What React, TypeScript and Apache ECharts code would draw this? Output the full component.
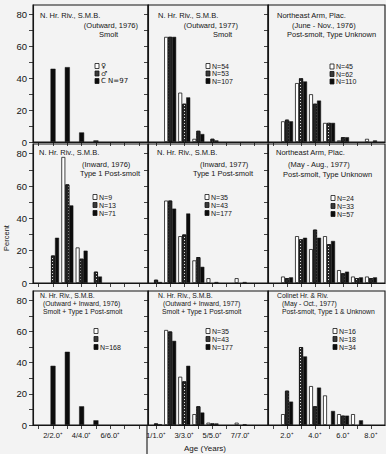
import React, { useEffect, useRef } from "react";
import * as echarts from "echarts";

// Ages (years) – categories on every x axis
const ages = [1, 2, 3, 4, 5, 6, 7, 8];
const yTicks = [0, 10, 20, 30, 40, 50, 60, 70, 80];
const yLabels = [0, 20, 40, 60, 80];

// Percent by age (index 0 = age 1 ... index 7 = age 8)
const outward1976C = [0, 46, 47, 6, 1, 0, 0, 0];
const outward1977W = [0, 66, 31, 2, 0, 0, 0, 0];
const outward1977H = [0, 66, 24, 7, 2, 0, 0, 0];
const outward1977B = [0, 66, 28, 5, 1, 0, 0, 0];
const neArm1976W = [0, 13, 37, 30, 12, 1, 0, 2];
const neArm1976H = [0, 14, 40, 24, 12, 3, 0, 0];
const neArm1976B = [0, 13, 38, 26, 12, 3, 0, 1];
const inward1976W = [0, 0, 78, 22, 0, 0, 0, 0];
const inward1976H = [0, 17, 61, 15, 7, 0, 0, 0];
const inward1976B = [0, 28, 48, 20, 4, 0, 0, 0];
const inward1977W = [0, 51, 29, 14, 3, 0, 3, 0];
const inward1977H = [2, 51, 30, 16, 0, 0, 0, 0];
const inward1977B = [0.6, 46, 43, 10, 0.6, 0, 0.6, 0];
const neArm1977W = [0, 4, 29, 21, 29, 8, 4, 4];
const neArm1977H = [0, 3, 27, 33, 24, 6, 3, 3];
const neArm1977B = [0, 3.5, 28, 28, 26, 7, 3.5, 3.5];
const combined1976C = [0, 38, 47, 12, 3, 0, 0, 0];
const combined1977W = [0, 61, 31, 7, 1.5, 0, 1.5, 0];
const combined1977H = [1, 60, 28, 12, 1, 0, 0, 0];
const combined1977B = [0.5, 54, 38, 8, 1, 0, 0.5, 0];
const colinetW = [0, 7, 0, 25, 19, 7, 7, 0];
const colinetH = [0, 22, 50, 12, 0, 6, 0, 0];
const colinetB = [0, 15, 44, 24, 9, 6, 3, 0];

const FONT = '"Liberation Sans", Arial, sans-serif';
const SYMFONT = '"DejaVu Sans", sans-serif';
const INK = "#151515";

const cols = [
  { left: 33, width: 115, min: 0.6, max: 8.64, labels: [2, 4, 6], fmt: (v: number) => `${v}/${v}.0⁺` },
  { left: 148, width: 120, min: 0.43, max: 8.94, labels: [1, 3, 5, 7], fmt: (v: number) => `${v}/${v}.0⁺` },
  { left: 268, width: 117, min: 0.64, max: 9.0, labels: [2, 4, 6, 8], fmt: (v: number) => `${v}.0⁺` },
];
const rows = [
  { top: 5, height: 137, titleFont: 7.5 },
  { top: 144, height: 139, titleFont: 7.5 },
  { top: 291, height: 134, titleFont: 6.8 },
];

type Kind = "W" | "H" | "B";
interface Panel {
  series: { kind: Kind; values: number[] }[];
  titles: { text: string; x: number; y: number; align?: string }[];
  legend: { x: number; ys: number[]; texts: string[]; font?: string };
}

const panels: Panel[] = [
  {
    series: [{ kind: "B", values: outward1976C }],
    titles: [
      { text: "N. Hr. Riv., S.M.B.", x: 40, y: 15 },
      { text: "(Outward, 1976)", x: 138, y: 25, align: "right" },
      { text: "Smolt", x: 99, y: 34 },
    ],
    legend: { x: 95, ys: [66, 73.5, 81], texts: ["♀", "♂", "C N=97"], font: SYMFONT },
  },
  {
    series: [
      { kind: "W", values: outward1977W },
      { kind: "H", values: outward1977H },
      { kind: "B", values: outward1977B },
    ],
    titles: [
      { text: "N. Hr. Riv., S.M.B.", x: 158, y: 15 },
      { text: "(Outward, 1977)", x: 238, y: 25, align: "right" },
      { text: "Smolt", x: 213, y: 34 },
    ],
    legend: { x: 206, ys: [66, 73.5, 81], texts: ["N=54", "N=53", "N=107"] },
  },
  {
    series: [
      { kind: "W", values: neArm1976W },
      { kind: "H", values: neArm1976H },
      { kind: "B", values: neArm1976B },
    ],
    titles: [
      { text: "Northeast Arm, Plac.", x: 277, y: 15 },
      { text: "(June - Nov., 1976)", x: 292, y: 25 },
      { text: "Post-smolt, Type Unknown", x: 287, y: 34 },
    ],
    legend: { x: 330, ys: [66.5, 74, 81.5], texts: ["N=45", "N=62", "N=110"] },
  },
  {
    series: [
      { kind: "W", values: inward1976W },
      { kind: "H", values: inward1976H },
      { kind: "B", values: inward1976B },
    ],
    titles: [
      { text: "N. Hr. Riv., S.M.B.", x: 39, y: 152 },
      { text: "(Inward, 1976)", x: 82, y: 164 },
      { text: "Type 1 Post-smolt", x: 80, y: 173 },
    ],
    legend: { x: 93, ys: [197, 205, 213], texts: ["N=9", "N=13", "N=71"] },
  },
  {
    series: [
      { kind: "W", values: inward1977W },
      { kind: "H", values: inward1977H },
      { kind: "B", values: inward1977B },
    ],
    titles: [
      { text: "N. Hr. Riv., S.M.B.", x: 157, y: 152 },
      { text: "(Inward, 1977)", x: 200, y: 164 },
      { text: "Type 1 Post-smolt", x: 193, y: 173 },
    ],
    legend: { x: 205, ys: [197, 205, 213], texts: ["N=35", "N=43", "N=177"] },
  },
  {
    series: [
      { kind: "W", values: neArm1977W },
      { kind: "H", values: neArm1977H },
      { kind: "B", values: neArm1977B },
    ],
    titles: [
      { text: "Northeast Arm, Plac.", x: 276, y: 152 },
      { text: "(May - Aug., 1977)", x: 288, y: 164 },
      { text: "Post-smolt, Type Unknown", x: 283, y: 174 },
    ],
    legend: { x: 331, ys: [198, 206, 214], texts: ["N=24", "N=33", "N=57"] },
  },
  {
    series: [{ kind: "B", values: combined1976C }],
    titles: [
      { text: "N. Hr. Riv., S.M.B.", x: 40, y: 295 },
      { text: "(Outward + Inward, 1976)", x: 43, y: 303 },
      { text: "Smolt + Type 1 Post-smolt", x: 43, y: 311 },
    ],
    legend: { x: 94, ys: [331, 339, 347], texts: ["", "", "N=168"] },
  },
  {
    series: [
      { kind: "W", values: combined1977W },
      { kind: "H", values: combined1977H },
      { kind: "B", values: combined1977B },
    ],
    titles: [
      { text: "N. Hr. Riv., S.M.B.", x: 158, y: 295 },
      { text: "(Outward + Inward, 1977)", x: 163, y: 303 },
      { text: "Smolt + Type 1 Post-smolt", x: 162, y: 311 },
    ],
    legend: { x: 206, ys: [331, 339, 347], texts: ["N=35", "N=43", "N=177"] },
  },
  {
    series: [
      { kind: "W", values: colinetW },
      { kind: "H", values: colinetH },
      { kind: "B", values: colinetB },
    ],
    titles: [
      { text: "Colinet Hr. & Riv.", x: 277, y: 295 },
      { text: "(May - Oct., 1977)", x: 282, y: 303 },
      { text: "Post-smolt, Type 1 & Unknown", x: 282, y: 311 },
    ],
    legend: { x: 333, ys: [331, 339, 347], texts: ["N=16", "N=18", "N=34"] },
  },
];

const barStyles: Record<Kind, any> = {
  W: { color: "#ffffff", borderColor: INK, borderWidth: 0.8 },
  H: {
    color: "#262626",
    borderColor: INK,
    borderWidth: 0.8,
    decal: {
      symbol: "rect",
      symbolSize: 1,
      color: "rgba(255,255,255,0.85)",
      dashArrayX: [1, 3],
      dashArrayY: [1, 2],
      rotation: 0,
    },
  },
  B: { color: "#0c0c0c", borderColor: INK, borderWidth: 0.5 },
};
const legendFill: Record<Kind, string> = { W: "#ffffff", H: "#3a3a3a", B: "#0c0c0c" };

function buildOption() {
  const grid: any[] = [];
  const xAxis: any[] = [];
  const yAxis: any[] = [];
  const series: any[] = [];
  const graphic: any[] = [];

  panels.forEach((p, i) => {
    const r = Math.floor(i / 3);
    const c = i % 3;
    const col = cols[c];
    const row = rows[r];
    grid.push({
      left: col.left,
      top: row.top,
      width: col.width,
      height: row.height,
      show: true,
      borderColor: INK,
      borderWidth: 1.1,
      backgroundColor: "transparent",
    });
    xAxis.push({
      gridIndex: i,
      type: "value",
      min: col.min,
      max: col.max,
      axisLine: { show: true, onZero: false, lineStyle: { color: INK, width: 1.1 } },
      axisTick: { show: true, customValues: ages, length: 4, lineStyle: { color: INK, width: 0.8 } },
      axisLabel: {
        show: r === 2,
        customValues: col.labels,
        formatter: (v: number) => col.fmt(v),
        fontSize: 7.5,
        fontFamily: FONT,
        color: INK,
        margin: 6,
      },
      splitLine: { show: false },
    });
    yAxis.push({
      gridIndex: i,
      type: "value",
      min: 0,
      max: 86,
      axisLine: { show: true, lineStyle: { color: INK, width: 1.1 } },
      axisTick: { show: true, customValues: yTicks, length: 4, lineStyle: { color: INK, width: 0.8 } },
      axisLabel: {
        show: c === 0,
        customValues: yLabels,
        fontSize: 9.5,
        fontFamily: FONT,
        color: INK,
        margin: 6,
      },
      splitLine: { show: false },
    });
    const single = p.series.length === 1;
    p.series.forEach((s) => {
      series.push({
        type: "bar",
        xAxisIndex: i,
        yAxisIndex: i,
        barWidth: single ? 5 : 4,
        barGap: "0%",
        data: ages
          .map((a, k) => (s.values[k] > 0 ? [a, s.values[k]] : null))
          .filter((d) => d !== null),
        itemStyle: barStyles[s.kind],
        emphasis: { disabled: true },
      });
    });
    p.titles.forEach((t) => {
      graphic.push({
        type: "text",
        x: t.x,
        y: t.y,
        silent: true,
        style: {
          text: t.text,
          font: `${row.titleFont}px ${FONT}`,
          fill: INK,
          align: t.align || "left",
          textAlign: t.align || "left",
          verticalAlign: "middle",
          textVerticalAlign: "middle",
        },
      });
    });
    const kinds: Kind[] = ["W", "H", "B"];
    p.legend.ys.forEach((y, k) => {
      graphic.push({
        type: "rect",
        silent: true,
        shape: { x: p.legend.x, y: y - 2.5, width: 4, height: 5 },
        style: { fill: legendFill[kinds[k]], stroke: INK, lineWidth: 0.8 },
      });
      if (p.legend.texts[k]) {
        graphic.push({
          type: "text",
          silent: true,
          x: p.legend.x + 6,
          y,
          style: {
            text: p.legend.texts[k],
            font: `7px ${p.legend.font || FONT}`,
            fill: INK,
            align: "left",
            textAlign: "left",
            verticalAlign: "middle",
            textVerticalAlign: "middle",
          },
        });
      }
    });
  });

  graphic.push({
    type: "text",
    silent: true,
    x: 6,
    y: 238,
    rotation: Math.PI / 2,
    style: {
      text: "Percent",
      font: `7.5px ${FONT}`,
      fill: INK,
      align: "center",
      textAlign: "center",
      verticalAlign: "middle",
      textVerticalAlign: "middle",
    },
  });
  graphic.push({
    type: "text",
    silent: true,
    x: 205,
    y: 448,
    style: {
      text: "Age (Years)",
      font: `8px ${FONT}`,
      fill: INK,
      align: "center",
      textAlign: "center",
      verticalAlign: "middle",
      textVerticalAlign: "middle",
    },
  });
  graphic.push({
    type: "line",
    silent: true,
    shape: { x1: 147, y1: 425, x2: 147, y2: 454 },
    style: { stroke: INK, lineWidth: 1.1 },
  });

  return {
    animation: false,
    backgroundColor: "#f3f3f3",
    grid,
    xAxis,
    yAxis,
    series,
    graphic: { elements: graphic },
  };
}

export default function App() {
  const ref = useRef<HTMLDivElement>(null);
  useEffect(() => {
    document.body.style.margin = "0";
    const chart = echarts.init(ref.current!, undefined, { renderer: "svg" });
    chart.setOption(buildOption() as any);
    return () => chart.dispose();
  }, []);
  return (
    <div
      ref={ref}
      style={{ width: 386, height: 454, position: "absolute", left: 0, top: 0 }}
    />
  );
}
